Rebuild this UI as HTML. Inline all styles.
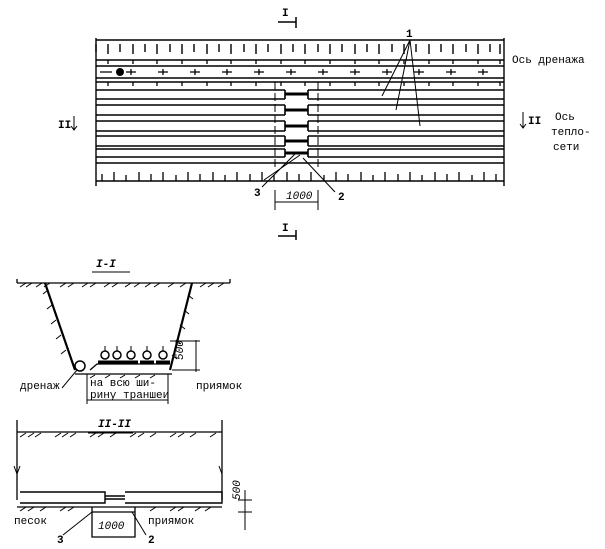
<!DOCTYPE html>
<html><head><meta charset="utf-8"><style>
body{margin:0;background:#fff}
svg{display:block}
text{font-family:"Liberation Mono",monospace;font-size:11px;fill:#000;stroke:none}
</style></head><body>
<svg width="605" height="549" viewBox="0 0 605 549" xmlns="http://www.w3.org/2000/svg" stroke="#000" fill="none">
<!-- plan -->
<g stroke-width="1.4">
<line x1="96" y1="38" x2="96" y2="186"/>
<line x1="504" y1="38" x2="504" y2="186"/>
<line x1="96" y1="40" x2="504" y2="40"/>
<line x1="96" y1="60" x2="504" y2="60"/>
<line x1="96" y1="66" x2="504" y2="66"/>
<line x1="96" y1="78" x2="504" y2="78"/>
<line x1="96" y1="82" x2="504" y2="82"/>
<line x1="96" y1="181" x2="504" y2="181"/>
<line x1="96" y1="163" x2="504" y2="163"/>
</g>
<g stroke-width="1.6">
<path d="M96 90H285M308 90H504M96 99H285M308 99H504M96 105H285M308 105H504M96 115H285M308 115H504M96 121H285M308 121H504M96 131H285M308 131H504M96 136H285M308 136H504M96 146H285M308 146H504M96 149H285M308 149H504M96 157H285M308 157H504"/>
<path d="M285 90V99M308 90V99M285 105V115M308 105V115M285 121V131M308 121V131M285 136V146M308 136V146M285 149V157M308 149V157"/>
<path d="M285 94H308M285 110H308M285 126H308M285 141H308M285 153H308" stroke-width="3"/>
</g>
<path d="M96 44v8M108 44v10M120 44v8M133 44v10M145 44v8M157 44v10M170 44v8M182 44v10M194 44v8M207 44v10M219 44v8M231 44v10M244 44v8M256 44v10M268 44v8M281 44v10M293 44v8M305 44v10M318 44v8M330 44v10M342 44v8M355 44v10M367 44v8M379 44v10M392 44v8M404 44v10M416 44v8M429 44v10M441 44v8M453 44v10M466 44v8M478 44v10M490 44v8M500 44v10" stroke-width="1.4"/>
<path d="M108 60v4M133 60v4M157 60v4M182 60v4M207 60v4M231 60v4M256 60v4M281 60v4M305 60v4M330 60v4M355 60v4M379 60v4M404 60v4M429 60v4M453 60v4M478 60v4M500 60v4M108 82v4M133 82v4M157 82v4M182 82v4M207 82v4M231 82v4M256 82v4M281 82v4M305 82v4M330 82v4M355 82v4M379 82v4M404 82v4M429 82v4M453 82v4M478 82v4M500 82v4" stroke-width="1.3"/>
<path d="M100 72h12M126 72h10M158 72h10M190 72h10M222 72h10M254 72h10M286 72h10M318 72h10M350 72h10M382 72h10M414 72h10M446 72h10M478 72h10M131 69v6M163 69v6M195 69v6M227 69v6M259 69v6M291 69v6M323 69v6M355 69v6M387 69v6M419 69v6M451 69v6M483 69v6" stroke-width="1.3"/>
<circle cx="120" cy="72" r="3.5" fill="#000"/>
<path d="M102 181v-7M114 181v-9M126 181v-6M139 181v-9M151 181v-7M163 181v-9M176 181v-6M188 181v-9M200 181v-7M213 181v-9M225 181v-6M237 181v-9M250 181v-7M262 181v-9M274 181v-6M287 181v-9M299 181v-7M311 181v-9M324 181v-6M336 181v-9M348 181v-7M361 181v-9M373 181v-6M385 181v-9M398 181v-7M410 181v-9M422 181v-6M435 181v-9M447 181v-7M459 181v-9M472 181v-6M484 181v-9M496 181v-7" stroke-width="1.3"/>
<path d="M275 82V168M318 82V168" stroke-dasharray="8 3"/>
<path d="M275 190V210M318 190V210M275 202H318"/>
<text x="286" y="199" font-size="9" font-style="italic">1000</text>
<path d="M410 40L382 96M410 40L396 110M410 40L420 126M264 180L300 155M335 192L303 158M262 187L296 153"/>
<text x="406" y="37" font-weight="bold">1</text>
<text x="254" y="196" font-weight="bold" font-size="10">3</text>
<text x="338" y="200" font-weight="bold" font-size="10">2</text>
<text x="282" y="16" font-weight="bold">I</text><path d="M278 22H296M296 17V28" stroke-width="1.5"/>
<text x="282" y="231" font-weight="bold">I</text><path d="M278 236H296M296 230V240" stroke-width="1.5"/>
<text x="58" y="128" font-weight="bold">II</text><path d="M74 116V130M71 126L74 130L77 126"/>
<text x="528" y="124" font-weight="bold">II</text><path d="M523 112V128M520 124L523 128L526 124"/>
<text x="512" y="63">Ось дренажа</text>
<text x="555" y="120">Ось</text><text x="551" y="135">тепло-</text><text x="553" y="150">сети</text>
<!-- I-I -->
<text x="96" y="267" font-style="italic" font-weight="bold">I-I</text><path d="M92 272H130"/>
<path d="M17 283H230M17 279v4M230 279v4" stroke-width="1.3"/>
<path d="M20 287l6-4M26 287l6-4M36 287l6-4M44 287l6-4M60 287l6-4M68 287l6-4M82 287l6-4M90 287l6-4M104 287l6-4M112 287l6-4M125 287l6-4M134 287l6-4M145 287l6-4M154 287l6-4M168 287l6-4M180 287l6-4M200 287l6-4M208 287l6-4M218 287l6-4"/>
<path d="M45 283L75 370M192 283L170 370" stroke-width="2.2"/>
<path d="M48 290l-5 4M52 305l-5 4M56 320l-5 4M61 335l-5 4M66 350l-5 4M188 295l5 4M184 310l5 4M180 325l5 4M176 340l5 4M172 355l5 4"/>
<path d="M75 374H172M90 370L97 364H170" stroke-width="1.3"/>
<circle cx="80" cy="366" r="5" stroke-width="1.5"/>
<g stroke-width="1.5"><circle cx="105" cy="355" r="4"/><circle cx="117" cy="355" r="4"/><circle cx="131" cy="355" r="4"/><circle cx="147" cy="355" r="4"/><circle cx="163" cy="355" r="4"/></g>
<path d="M98 362h14M110 362h14M124 362h14M140 362h14M156 362h14" stroke-width="3"/>
<path d="M105 346v5M117 346v5M131 346v5M147 346v5M163 346v5"/>
<path d="M87 374V404M168 374V404M87 400H168M170 341H200M172 370H200M196 340V372"/>
<path d="M90 378l5-3M105 378l5-3M120 378l5-3M135 378l5-3M150 378l5-3"/>
<text x="183" y="360" font-size="8" font-style="italic" transform="rotate(-90 183 360)">500</text>
<text x="90" y="386">на всю ши-</text><text x="90" y="398">рину траншеи</text>
<text x="20" y="389">дренаж</text><path d="M62 388L77 370"/>
<text x="196" y="389">приямок</text>
<!-- II-II -->
<text x="98" y="427" font-weight="bold" font-style="italic">II-II</text><path d="M88 433H133"/>
<path d="M17 432H222M17 420V500M222 420V500" stroke-width="1.3"/>
<path d="M20 437l6-4M28 437l6-4M35 437l6-4M55 437l6-4M62 437l6-4M70 437l6-4M90 437l6-4M98 437l6-4M110 437l6-4M130 437l6-4M138 437l6-4M150 437l6-4M170 437l6-4M178 437l6-4M190 437l6-4M210 437l6-4"/>
<path d="M14 466L17 474L20 466M219 466L222 474"/>
<path d="M20 492H105V503H20M125 492H222V503H125M105 496H125M105 499H125" stroke-width="1.4"/>
<path d="M17 507H222M92 507V537H135V507M92 512H135" stroke-width="1.3"/>
<path d="M20 511l6-4M28 511l6-4M40 511l6-4M60 511l6-4M68 511l6-4M150 511l6-4M170 511l6-4M178 511l6-4M195 511l6-4M205 511l6-4"/>
<text x="98" y="529" font-size="10" font-style="italic">1000</text>
<text x="14" y="524" font-size="10">песок</text>
<text x="148" y="524" font-size="10">приямок</text>
<text x="57" y="543" font-weight="bold">3</text><path d="M63 535L92 512"/>
<text x="148" y="543" font-weight="bold">2</text><path d="M146 535L132 512"/>
<path d="M245 490V530M238 500H252M238 512H252"/>
<text x="240" y="500" font-size="8" font-style="italic" transform="rotate(-90 240 500)">500</text>
</svg>
</body></html>
